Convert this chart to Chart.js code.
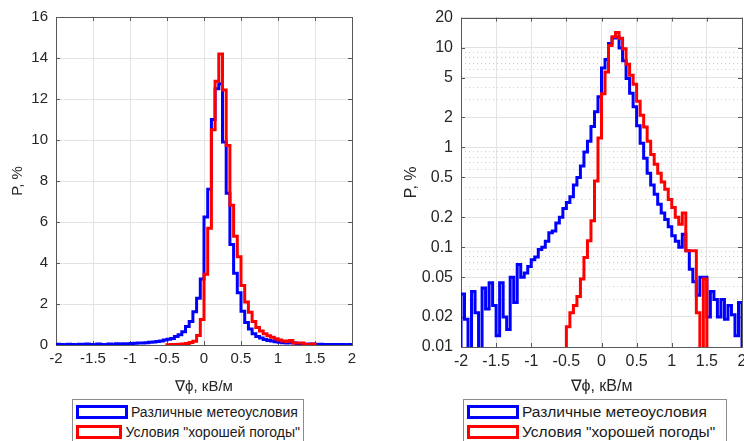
<!DOCTYPE html>
<html>
<head>
<meta charset="utf-8">
<script src="https://cdn.jsdelivr.net/npm/chart.js@4.4.1/dist/chart.umd.min.js"></script>
<style>
  body { margin: 0; width: 744px; height: 441px; overflow: hidden; background: #fff; position: relative; font-family: "Liberation Sans", Arial, sans-serif; }
  .panel { position: absolute; top: 0; height: 398px; }
  .lg { position: absolute; top: 399px; height: 46px; border: 1px solid #8c8c8c; background: #fff; color: #1a1a1a; box-sizing: border-box; padding: 2px 3px; }
  .row { height: 20px; display: flex; align-items: center; white-space: nowrap; }
  .sw { display: inline-block; width: 46px; height: 8px; border: 3px solid; margin-right: 3px; background: #fff; }
</style>
</head>
<body>
<div class="panel" style="left:0;width:372px"><canvas id="c1"></canvas></div>
<div class="panel" style="left:372px;width:380px"><canvas id="c2"></canvas></div>

<div class="lg" style="left:72px;width:232px;font-size:14px">
  <div class="row"><span class="sw" style="border-color:#0000ff"></span>Различные метеоусловия</div>
  <div class="row"><span class="sw" style="border-color:#ff0000"></span>Условия "хорошей погоды"</div>
</div>
<div class="lg" style="left:463px;width:264px;font-size:15.5px">
  <div class="row"><span class="sw" style="border-color:#0000ff"></span>Различные метеоусловия</div>
  <div class="row"><span class="sw" style="border-color:#ff0000"></span>Условия "хорошей погоды"</div>
</div>

<script>
// histogram bins: 0.05 kV/m wide
const binWidth = 0.05;
const xTicks = [-2, -1.5, -1, -0.5, 0, 0.5, 1, 1.5, 2];
const linTicks = [0, 2, 4, 6, 8, 10, 12, 14, 16];
const logTicks = [0.01, 0.02, 0.05, 0.1, 0.2, 0.5, 1, 2, 5, 10, 20];
const logMinor = [0.03, 0.04, 0.06, 0.07, 0.08, 0.09, 0.3, 0.4, 0.6, 0.7, 0.8, 0.9, 3, 4, 6, 7, 8, 9];

// "Различные метеоусловия", bins from -2 to 2
const blueStart = -2;
const blueP = [
  0.034, 0.019, 0.0095, 0.036, 0.022, 0.0095, 0.039, 0.024, 0.044, 0.026,
  0.013, 0.044, 0.02, 0.015, 0.05, 0.028, 0.067, 0.05, 0.055, 0.064,
  0.075, 0.08, 0.095, 0.1, 0.115, 0.14, 0.145, 0.175, 0.2, 0.245,
  0.28, 0.32, 0.42, 0.5, 0.65, 0.9, 1.15, 1.62, 2.28, 3.22,
  6.25, 7.6, 11.0, 12.5, 12.75, 9.9, 7.4, 4.9, 3.5, 2.55,
  1.65, 1.1, 0.78, 0.55, 0.42, 0.34, 0.27, 0.22, 0.19, 0.16,
  0.13, 0.115, 0.1, 0.135, 0.092, 0.06, 0.045, 0.033, 0.05, 0.05,
  0.02, 0.036, 0.03, 0.02, 0.03, 0.019, 0.026, 0.021, 0.013, 0.028
];

// "Условия хорошей погоды", bins from -0.5 to 1.5
const redStart = -0.5;
const redP = [
  0.016, 0.022, 0.026, 0.032, 0.048, 0.079, 0.116, 0.184, 0.46, 1.24,
  3.45, 5.7, 10.5, 12.86, 14.2, 12.44, 9.73, 6.82, 5.3, 4.3,
  2.9, 2.1, 1.6, 1.15, 0.85, 0.68, 0.55, 0.45, 0.38, 0.3,
  0.25, 0.2, 0.17, 0.22, 0.092, 0.092, 0.092, 0.022, 0, 0.048
];

const textColor = '#262626';
const axisColor = '#595959';
const gridColor = '#e3e3e3';
const minorColor = '#cfcfcf';
const family = "'Liberation Sans', Arial, sans-serif";

// outline of a histogram, starting and ending at the floor
function stairs(start, vals, floor) {
  let pts = [{ x: start, y: floor }];
  for (let i = 0; i < vals.length; i++) {
    pts.push({ x: Math.round((start + i * binWidth) * 100) / 100, y: vals[i] > 0 ? vals[i] : floor });
  }
  pts.push({ x: Math.round((start + vals.length * binWidth) * 100) / 100, y: floor });
  return pts;
}

// axes box and inward tick marks, like the original figure
const boxPlugin = {
  id: 'box',
  beforeDatasetsDraw(chart) {
    const ctx = chart.ctx, a = chart.chartArea;
    const xs = chart.scales.x, ys = chart.scales.y;
    ctx.save();
    ctx.strokeStyle = axisColor;
    ctx.lineWidth = 1;
    ctx.strokeRect(Math.round(a.left) + 0.5, Math.round(a.top) + 0.5, Math.round(a.right - a.left), Math.round(a.bottom - a.top));
    ctx.beginPath();
    xTicks.forEach(v => {
      const px = Math.round(xs.getPixelForValue(v)) + 0.5;
      ctx.moveTo(px, a.bottom); ctx.lineTo(px, a.bottom - 4);
      ctx.moveTo(px, a.top); ctx.lineTo(px, a.top + 4);
    });
    const yt = chart.options.scales.y.type === 'logarithmic' ? logTicks : linTicks;
    yt.forEach(v => {
      const py = Math.round(ys.getPixelForValue(v)) + 0.5;
      ctx.moveTo(a.left, py); ctx.lineTo(a.left + 4, py);
      ctx.moveTo(a.right, py); ctx.lineTo(a.right - 4, py);
    });
    ctx.stroke();
    ctx.restore();
  }
};

function makeChart(id, isLog, yWidth, xHeight, padRight, titlePad, fontSize) {
  const floor = isLog ? 0.0001 : 0;
  const font = { family: family, size: fontSize };
  const yScale = isLog ? {
    type: 'logarithmic',
    min: 0.01,
    max: 20,
    afterBuildTicks: s => {
      s.ticks = logTicks.concat(logMinor).sort((p, q) => p - q).map(v => ({ value: v }));
    },
    ticks: {
      autoSkip: false,
      padding: 8,
      color: textColor,
      font: font,
      callback: v => logTicks.includes(v) ? String(v) : ''
    },
    grid: {
      drawTicks: false,
      color: c => (c.tick && logMinor.includes(c.tick.value)) ? minorColor : gridColor
    },
    border: {
      display: false,
      dash: c => (c.tick && logMinor.includes(c.tick.value)) ? [1, 3] : []
    }
  } : {
    type: 'linear',
    min: 0,
    max: 16,
    ticks: { stepSize: 2, padding: 8, color: textColor, font: font },
    grid: { drawTicks: false, color: gridColor },
    border: { display: false }
  };
  yScale.title = { display: true, text: 'P, %', color: textColor, font: font, padding: { top: titlePad, bottom: 0 } };
  yScale.afterFit = s => { s.width = yWidth; };

  return new Chart(document.getElementById(id), {
    type: 'line',
    data: {
      datasets: [
        {
          label: 'Различные метеоусловия',
          data: stairs(blueStart, blueP, floor),
          borderColor: '#0000ff',
          backgroundColor: '#ffffff',
          borderWidth: 3,
          stepped: 'before',
          pointRadius: 0,
          fill: false,
          order: 2
        },
        {
          label: 'Условия "хорошей погоды"',
          data: stairs(redStart, redP, floor),
          borderColor: '#ff0000',
          backgroundColor: '#ffffff',
          borderWidth: 3,
          stepped: 'before',
          pointRadius: 0,
          fill: false,
          order: 1
        }
      ]
    },
    options: {
      responsive: true,
      maintainAspectRatio: false,
      animation: false,
      layout: { padding: { left: 0, right: padRight, top: 16, bottom: 0 } },
      plugins: { legend: { display: false }, tooltip: { enabled: false } },
      scales: {
        x: {
          type: 'linear',
          min: -2,
          max: 2,
          afterBuildTicks: s => { s.ticks = xTicks.map(v => ({ value: v })); },
          ticks: { autoSkip: false, maxRotation: 0, padding: 5, color: textColor, font: font, callback: v => String(v) },
          grid: { drawTicks: false, color: gridColor },
          border: { display: false },
          title: { display: true, text: '∇ϕ, кВ/м', color: textColor, font: font, padding: { top: 4, bottom: 2 } },
          afterFit: s => { s.height = xHeight; }
        },
        y: yScale
      }
    },
    plugins: [boxPlugin]
  });
}

makeChart('c1', false, 56, 53, 20, 9, 15);
makeChart('c2', true, 89, 51, 10, 30, 16);
</script>
</body>
</html>
